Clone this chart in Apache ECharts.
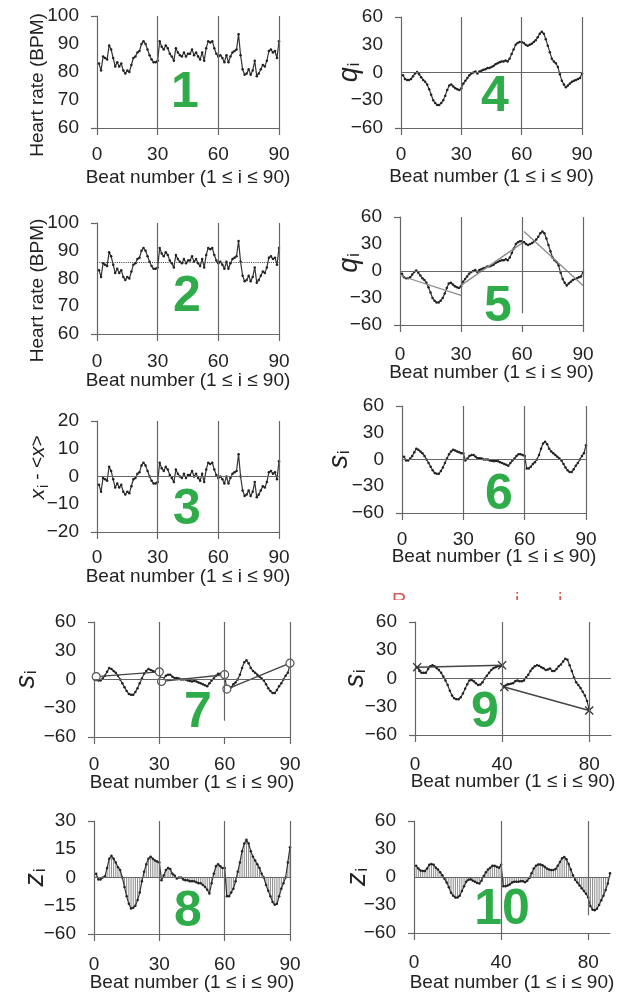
<!DOCTYPE html>
<html>
<head>
<meta charset="utf-8">
<script src="https://cdn.jsdelivr.net/npm/echarts@6/dist/echarts.min.js"></script>
<style>
  html, body { margin: 0; background: #fff; }
  #chart { width: 635px; height: 994px; }
</style>
</head>
<body>
<div id="chart"></div>
<script>
// heart rate, beats 1..90 (panels 1 and 2)
const hr = [83, 80.5, 85.5, 85, 84.5, 89.5, 88, 85, 82, 83.5,
  82, 83, 80.5, 79.5, 80.5, 80, 82.5, 85, 85.5, 87,
  87.5, 90, 91, 90, 88, 86, 84.5, 83.5, 83.5, 84,
  91, 89, 88, 89.5, 88.5, 86.5, 85.5, 84, 88.5, 87,
  86, 85.5, 87, 85.5, 86.5, 86.5, 88, 86, 87, 85.5,
  84.5, 87, 84, 88.5, 91, 90.5, 91, 88.5, 86.5, 85.5,
  86, 85, 83.5, 86, 83.5, 85.5, 87, 87.5, 88, 93.5,
  86, 81, 79, 79.5, 81, 79, 80.5, 84, 78.5, 79.5,
  81, 82.5, 82, 84, 87.5, 88, 87, 87.5, 85, 91]
const meanHr = 86

// x_i - <x> (panel 3)
const dev = [-3, -5.5, -0.5, -1, -1.5, 3.5, 2, -1, -4, -2.5,
  -4, -3, -5.5, -6.5, -5.5, -6, -3.5, -1, -0.5, 1,
  1.5, 4, 5, 4, 2, 0, -1.5, -2.5, -2.5, -2,
  5, 3, 2, 3.5, 2.5, 0.5, -0.5, -2, 2.5, 1,
  0, -0.5, 1, -0.5, 0.5, 0.5, 2, 0, 1, -0.5,
  -1.5, 1, -2, 2.5, 5, 4.5, 5, 2.5, 0.5, -0.5,
  0, -1, -2.5, 0, -2.5, -0.5, 1, 1.5, 2, 8,
  0, -5, -7, -6.5, -5, -7, -5.5, -2, -7.5, -6.5,
  -5, -3.5, -4, -2, 1.5, 2, 1, 1.5, -1, 5.5]

// q_i profile (panels 4 and 5)
const q = [-3, -7, -8, -8, -7, -4, -1, 0.5, -2, -5,
  -8, -10, -13, -18, -24, -30, -33, -35, -35, -33,
  -30, -25, -19, -14, -13, -15, -17, -18, -19, -17,
  -12, -9, -6, -3, -1, 0, 1, -1, 1, 2,
  3, 3.5, 5, 5, 6, 7, 9, 10, 11, 12,
  12, 13, 12, 15, 20, 25, 30, 32, 33, 33,
  32, 30, 29, 30, 31, 33, 35, 38, 42, 44,
  42, 36, 29, 22, 15, 12, 10, 6, -2, -9,
  -13, -16, -14, -12, -10, -9, -8, -7, -6, -1]
// local fits in panel 5: [x0, y0, x1, y1]
const fit5 = [[0, -5, 30, -27], [30, -16, 60, 31], [61, 44, 90, -16]]

// s_i detrended (panels 6 and 7)
const s = [3, -1, -1, 1, 4, 8, 12, 11, 9, 7,
  4, 0, -4, -8, -12, -15, -16, -16, -13, -9,
  -4, 1, 6, 9, 11, 10, 9, 8, 7, 7,
  -1, 1, 4, 5, 5, 3, 1.5, 1.5, 1, 0,
  0, 0, -1, -1.5, -2, -1.5, -2, -3, -4, -5,
  -6, -7, -4, -1, 1, 4, 6, 6, 5, 4,
  -10, -10, -8, -5, -3, 0, 5, 12, 18, 20,
  17, 12, 9, 7, 5, 3, 1, -1, -5, -9,
  -12, -14, -14, -11, -7, -4, 0, 4, 7, 16]
// end-point links in panel 7: [x0, y0, x1, y1]
const link7 = [[1, 3, 30, 8], [31, -2, 60, 5], [61, -10, 90, 17]]

// z_i (panel 8)
const z8 = [2, -1, -1, 0, 0.5, 5, 10, 11.5, 10, 8,
  5.5, 4, 0, -5, -10, -14, -16.5, -16, -15, -12,
  -8, -2, 3, 7, 10, 11, 10, 9, 8.5, 8,
  -1.5, 1, 4, 5, 4.5, 2, 1, -0.5, 0, 0,
  -1, -1.5, -1.5, -2, -2, -2, -2.5, -3, -3, -4,
  -5, -6.5, -8.5, -3, 2, 6, 7, 6, 5, 5,
  -10, -10, -8, -6, -2, 3, 8, 14, 18, 20,
  18, 14, 11, 9, 7, 5, 2, 0, -4, -7,
  -10, -13, -14.5, -14, -10, -6, -3, 0, 8, 16]
const y8Values = [30, 15, 0, -15, -30]
const y8Labels = ['30', '15', '0', '−15', '−60']

// s_i with 40-beat boxes (panel 9)
const s9a = [12, 8, 6, 6, 6, 10, 13, 14, 13, 11,
  9, 6, 2, -2, -7, -13, -18, -21, -22, -22,
  -20, -16, -11, -6, -2, -1.5, -3, -5, -7, -6.5,
  -4, 0, 3, 6, 9, 11, 12, 13, 13, 14]
const s9b = [-8, -7, -6, -5.5, -5, -3, -2, -3, -3, -2,
  1, 4, 8, 11, 13, 14, 13.5, 12, 11, 9,
  9.5, 10.5, 8, 8, 10, 13, 15, 18, 21, 20,
  14, 8, 1, -4, -7, -10, -14, -18, -24, -33]
const link9 = [[1, 12, 40, 14], [41, -9, 80, -34]]

// z_i with 40-beat boxes (panel 10)
const z10 = [12, 9, 7, 6.5, 6.5, 9, 13, 14, 13, 10,
  8, 5, 2, -2, -6, -11, -17, -20, -22, -22,
  -20, -15, -10, -5, -3, -2.5, -4, -5, -6.5, -7,
  -4, 1, 5, 8, 10, 12, 12, 11, 10, 13,
  -10, -10, -9, -8, -6, -5, -5, -5, -4.5, -4.5,
  -5.5, -4, -1, 4, 9, 12, 13.5, 13.5, 12.5, 11,
  9, 8, 7.5, 7.5, 8.5, 12, 16, 20, 21.5, 19,
  14, 8, 2, -3, -6, -9, -12, -15, -18, -22,
  -31, -35, -35.5, -34, -30, -25, -20, -14, -7, 4]

const xTicksA = [0, 30, 60, 90]
const xTicksB = [0, 40, 80]
const xTitle = 'Beat number (1 ≤ i ≤ 90)'

const F = 'Liberation Sans, Arial, sans-serif'
const INK = '#222'
const AX = '#666'
const GREEN = '#2fab4a'

const pts = (arr, start) => arr.map((v, i) => [start + i, v])
const minus = v => (v < 0 ? '−' + (-v) : String(v))

const richName = {
  v: { fontSize: 27, fontStyle: 'italic', fontFamily: F, color: INK, lineHeight: 28 },
  sub: { fontSize: 16, fontFamily: F, color: INK, verticalAlign: 'bottom', lineHeight: 28, padding: [0, 0, 0, 1] },
  n: { fontSize: 19, fontFamily: F, color: INK, lineHeight: 26 },
  x: { fontSize: 21, fontStyle: 'italic', fontFamily: F, color: INK, lineHeight: 26 },
  xs: { fontSize: 14, fontFamily: F, color: INK, verticalAlign: 'bottom', lineHeight: 26, padding: [0, 0, 0, 1] }
}

// layout of the ten panels
const panels = [
  { g: [97, 16, 182, 112], y: [60, 100, 10], xt: xTicksA, vl: [[30], [60], [90]], zero: false,
    name: 'Heart rate (BPM)', ng: 50, np: [0, 26, 0, 0], xm: 17, xg: 40, tag: '1', tp: [185, 93] },
  { g: [97, 223, 182, 111], y: [60, 100, 10], xt: xTicksA, vl: [[30], [60], [90]], zero: false,
    name: 'Heart rate (BPM)', ng: 50, np: [0, 24, 0, 0], xm: 18, xg: 37, tag: '2', tp: [187, 297] },
  { g: [97, 421, 182, 111], y: [-20, 20, 10], xt: xTicksA, vl: [[30], [60], [90]], zero: true,
    name: '{x|x}{xs|i}{n| - <}{x|x}{n|>}', ng: 46, np: [0, 0, 0, 18], xm: 16, xg: 35, tag: '3', tp: [187, 510] },
  { g: [401, 17, 181, 111], y: [-60, 60, 30], xt: xTicksA, vl: [[30], [60], [90]], zero: true,
    name: '{v|q}{sub|i}', ng: 38, np: [0, 0, 0, 0], xm: 17, xg: 39, tag: '4', tp: [495, 97] },
  { g: [400, 217, 183, 108], y: [-60, 60, 30], xt: xTicksA, vl: [[30], [60, -47], [90]], zero: true,
    name: '{v|q}{sub|i}', ng: 37, np: [0, 0, 0, 16], xm: 20, xg: 38, tag: '5', tp: [498, 307] },
  { g: [402, 406, 184, 107], y: [-60, 60, 30], xt: xTicksA, vl: [[30], [60], [90]], zero: true,
    name: '{v|s}{sub|i}', ng: 49, np: [0, 0, 0, 0], xm: 17, xg: 34, tag: '6', tp: [499, 495] },
  { g: [94, 622, 196, 115], y: [-60, 60, 30], xt: xTicksA, vl: [[30], [60, -43], [90]], zero: true,
    name: '{v|s}{sub|i}', ng: 54, np: [0, 0, 0, 0], xm: 18, xg: 36, tag: '7', tp: [198, 713] },
  { g: [94, 821, 196, 113], y: [-30, 30, 15], xt: xTicksA, vl: [[30], [60], [90]], zero: true,
    name: '{v|z}{sub|i}', ng: 45, np: [0, 0, 0, 0], xm: 21, xg: 39, tag: '8', tp: [188, 912] },
  { g: [415, 622, 196, 113], y: [-60, 60, 30], xt: xTicksB, vl: [[40], [80]], zero: true,
    name: '{v|s}{sub|i}', ng: 46, np: [0, 0, 0, 0], xm: 20, xg: 37, tag: '9', tp: [485, 713] },
  { g: [414, 821, 196, 112], y: [-60, 60, 30], xt: xTicksB, vl: [[40], [80, -41]], zero: true,
    name: '{v|z}{sub|i}', ng: 43, np: [0, 0, 0, 0], xm: 20, xg: 40, tag: '10', tp: [502, 910] }
]

const grid = []
const xAxis = []
const yAxis = []

panels.forEach((p, i) => {
  const [ymin, ymax, yint] = p.y
  grid.push({ left: p.g[0], top: p.g[1], width: p.g[2], height: p.g[3] })
  xAxis.push({
    gridIndex: i, type: 'value', min: 0, max: 90, interval: p.xt[1],
    axisLine: { show: true, onZero: false, lineStyle: { color: AX, width: 1.2 } },
    axisTick: { show: true, length: 7, customValues: p.xt, lineStyle: { color: AX, width: 1.2 } },
    axisLabel: { customValues: p.xt, margin: p.xm, fontSize: 19, color: INK, fontFamily: F },
    splitLine: { show: false },
    name: xTitle, nameLocation: 'middle', nameGap: p.xg, nameMoveOverlap: false,
    nameTextStyle: { fontSize: 19, color: INK, fontFamily: F }
  })
  yAxis.push({
    gridIndex: i, type: 'value', min: ymin, max: ymax, interval: yint,
    axisLine: { show: true, lineStyle: { color: AX, width: 1.2 } },
    axisTick: { show: true, length: 6, customValues: [ymin, ymax], lineStyle: { color: AX, width: 1.2 } },
    axisLabel: {
      margin: 18, fontSize: 19, color: INK, fontFamily: F,
      formatter: i === 7 ? v => y8Labels[y8Values.indexOf(v)] : minus
    },
    splitLine: { show: false },
    name: p.name, nameLocation: 'middle', nameRotate: 90, nameGap: p.ng, nameMoveOverlap: false,
    nameTextStyle: { fontSize: 19, color: INK, fontFamily: F, padding: p.np, rich: richName }
  })
})

function guides(i, extra) {
  const p = panels[i]
  const [ymin, ymax] = p.y
  const data = p.vl.map(([x, y0]) => [{ coord: [x, y0 === undefined ? ymin : y0] }, { coord: [x, ymax] }])
  if (p.zero) data.push([{ coord: [0, 0] }, { coord: [90, 0] }])
  return {
    silent: true, symbol: ['none', 'none'], label: { show: false },
    lineStyle: { color: AX, width: 1.2, type: 'solid' },
    data: data.concat(extra || [])
  }
}

function curve(i, data, withGuides, extraGuides) {
  const sr = {
    type: 'line', xAxisIndex: i, yAxisIndex: i, data, silent: true,
    symbol: 'circle', symbolSize: 2.5, showSymbol: true,
    lineStyle: { color: '#333', width: 1.2 }, itemStyle: { color: '#222' }, z: 3
  }
  if (withGuides) sr.markLine = guides(i, extraGuides)
  return sr
}

function hatch(i, data) {
  return {
    type: 'bar', xAxisIndex: i, yAxisIndex: i, data, silent: true,
    barWidth: 1, itemStyle: { color: '#8a8a8a' }, z: 2
  }
}

function link(i, seg, marker) {
  const open = marker === 'circle'
  return {
    type: 'line', xAxisIndex: i, yAxisIndex: i, silent: true,
    data: [[seg[0], seg[1]], [seg[2], seg[3]]],
    symbol: open ? 'circle' : 'path://M0,1L1,0L5,4L9,0L10,1L6,5L10,9L9,10L5,6L1,10L0,9L4,5Z',
    symbolSize: open ? 8 : 9,
    lineStyle: { color: '#444', width: 1.4 },
    itemStyle: open ? { color: '#fff', borderColor: '#555', borderWidth: 1.2 } : { color: '#333' },
    z: 4
  }
}

function fitLine(i, seg) {
  return {
    type: 'line', xAxisIndex: i, yAxisIndex: i, silent: true, symbol: 'none',
    data: [[seg[0], seg[1]], [seg[2], seg[3]]],
    lineStyle: { color: '#8c8c8c', width: 1.3 }, z: 4
  }
}

const meanLine = [{ coord: [0, meanHr], lineStyle: { type: 'dotted', color: '#444', width: 1.1 } }, { coord: [90, meanHr] }]

const series = [
  curve(0, pts(hr, 1), true),
  curve(1, pts(hr, 1), true, [meanLine]),
  curve(2, pts(dev, 1), true),
  curve(3, pts(q, 1), true),
  curve(4, pts(q, 1), true),
  ...fit5.map(sg => fitLine(4, sg)),
  curve(5, pts(s, 1), true),
  curve(6, pts(s, 1), true),
  ...link7.map(sg => link(6, sg, 'circle')),
  hatch(7, pts(z8, 1)),
  curve(7, pts(z8, 1), true),
  curve(8, pts(s9a, 1), true),
  curve(8, pts(s9b, 41), false),
  ...link9.map(sg => link(8, sg, 'cross')),
  hatch(9, pts(z10, 1)),
  curve(9, pts(z10, 1), true)
]

const graphic = panels.map(p => ({
  type: 'text', x: p.tp[0], y: p.tp[1], silent: true, z: 10,
  style: { text: p.tag, fill: GREEN, fontSize: 50, fontWeight: 'bold', fontFamily: F, align: 'center', verticalAlign: 'middle' }
}))
// cut-off red heading between the rows
graphic.push(
  { type: 'text', x: 392, y: 591, silent: true, z: 9, style: { text: 'R', fill: '#d65a5a', fontSize: 20, fontFamily: F } },
  { type: 'text', x: 515, y: 591, silent: true, z: 9, style: { text: 'i', fill: '#d65a5a', fontSize: 20, fontFamily: F } },
  { type: 'text', x: 558, y: 591, silent: true, z: 9, style: { text: 'i', fill: '#d65a5a', fontSize: 20, fontFamily: F } },
  { type: 'rect', shape: { x: 380, y: 600, width: 220, height: 9 }, silent: true, z: 9.5, style: { fill: '#fff' } }
)

const chart = echarts.init(document.getElementById('chart'))
chart.setOption({
  animation: false,
  backgroundColor: '#fff',
  grid, xAxis, yAxis, series, graphic
})
window.addEventListener('resize', () => chart.resize())
</script>
</body>
</html>
